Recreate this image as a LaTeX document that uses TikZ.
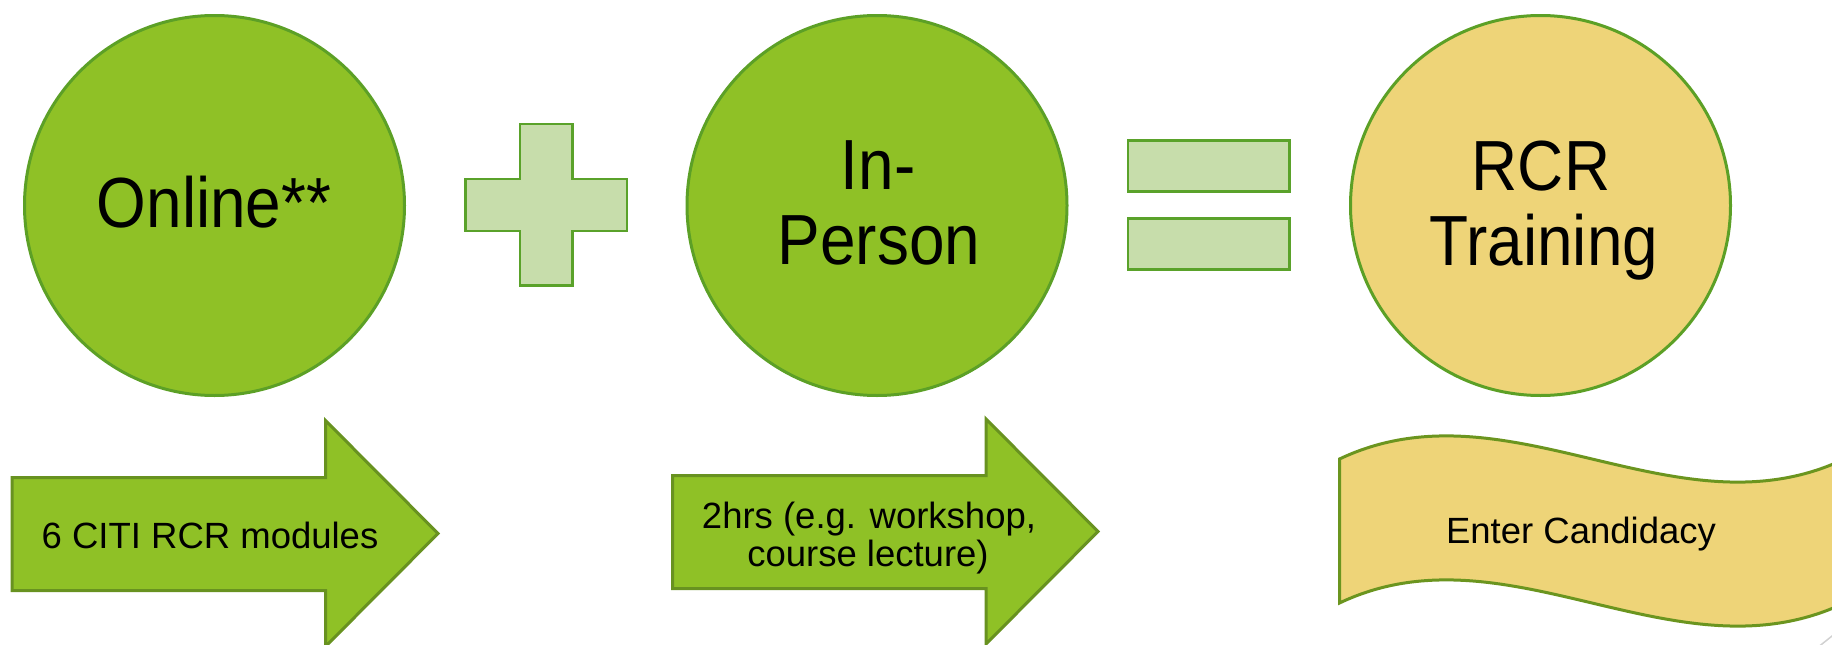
\documentclass[tikz,border=0pt]{standalone}
\usepackage{fontspec}
\setmainfont{Liberation Sans}
\newfontfamily\bigfont[FakeStretch=0.9]{Liberation Sans}
\definecolor{circgreen}{RGB}{143,193,38}
\definecolor{circline}{RGB}{92,160,38}
\definecolor{arrowline}{RGB}{104,146,32}
\definecolor{lightgreen}{RGB}{199,221,171}
\definecolor{opline}{RGB}{90,162,42}
\definecolor{softyellow}{RGB}{238,212,120}
\definecolor{waveline}{RGB}{107,149,31}
\tikzset{
  bigcircle/.style={circle, minimum size=380pt, inner sep=0pt, line width=3pt, draw=circline},
  greencircle/.style={bigcircle, fill=circgreen},
  yellowcircle/.style={bigcircle, fill=softyellow},
  opshape/.style={fill=lightgreen, draw=opline, line width=2.2pt},
  arrowshape/.style={fill=circgreen, draw=arrowline, line width=3pt, line join=miter},
  bigtext/.style={anchor=base, inner sep=0pt, font=\bigfont\fontsize{71}{75}\selectfont},
  smalltext/.style={anchor=base, inner sep=0pt, font=\fontsize{36.5}{38}\selectfont},
}
\begin{document}
\begin{tikzpicture}[x=1pt,y=-1pt]
\clip (0,0) rectangle (1832,645);
\fill[white] (0,0) rectangle (1832,645);

% circles
\node[greencircle] (online) at (214.5,205.5) {};
\node[greencircle] (inperson) at (877,205.5) {};
\node[yellowcircle] (rcr) at (1540.5,205.5) {};

\node[bigtext] (onlinetxt) at (214,227.7) {Online**};
\node[bigtext] (intxt) at (878,189.3) {In-};
\node[bigtext] (persontxt) at (879,264) {Person};
\node[bigtext] (rcrtxt) at (1541,190) {RCR};
\node[bigtext] (trainingtxt) at (1544,265) {Training};

% plus sign
\draw[opshape] (520,124) -- (572.5,124) -- (572.5,179) -- (627,179) -- (627,231) -- (572.5,231)
  -- (572.5,285.5) -- (520,285.5) -- (520,231) -- (465.5,231) -- (465.5,179) -- (520,179) -- cycle;

% equals sign
\draw[opshape] (1128,140.5) rectangle (1289.5,191.5);
\draw[opshape] (1128,218.5) rectangle (1289.5,269.5);

% arrows
\draw[arrowshape] (12,477.5) -- (325.5,477.5) -- (325.5,420.5) -- (438,533.5) -- (325.5,646.5)
  -- (325.5,590.5) -- (12,590.5) -- cycle;
\draw[arrowshape] (672.5,475.5) -- (986,475.5) -- (986,419) -- (1098,531.5) -- (986,644)
  -- (986,588.5) -- (672.5,588.5) -- cycle;

\node[smalltext] (citi) at (210,548.3) {6 CITI RCR modules};
\node[smalltext] (hrs1) at (869,528.3) {2hrs (e.g. workshop,};
\node[smalltext] (hrs2) at (868,566.7) {course lecture)};

% wave
\draw[fill=softyellow, draw=waveline, line width=3pt, line join=miter]
  (1339.5,459) .. controls (1507.8,379) and (1676.2,539) .. (1844.5,459)
  -- (1844.5,603) .. controls (1676.2,683) and (1507.8,523) .. (1339.5,603) -- cycle;
\node[smalltext] (cand) at (1581,543.3) {Enter Candidacy};

% faint corner line
\draw[line width=1.5pt, draw=black!18] (1812,652) -- (1842,628);
\end{tikzpicture}
\end{document}
